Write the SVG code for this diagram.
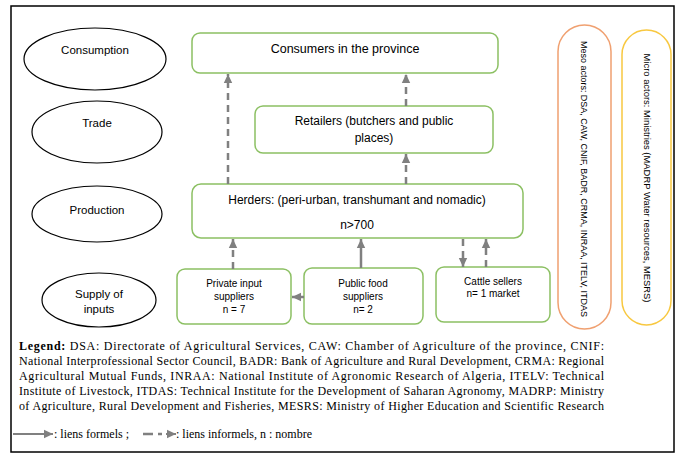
<svg xmlns="http://www.w3.org/2000/svg" width="678" height="455" viewBox="0 0 678 455">
<style>
.ell{fill:#fff;stroke:#000;stroke-width:1.2}
.box{fill:#fff;stroke:#8cc063;stroke-width:1.5}
.t{font-family:"Liberation Sans",Arial,sans-serif;fill:#000;text-anchor:middle}
.lg{font-family:"Liberation Serif","Times New Roman",serif;font-size:12px;fill:#000}
.s{fill:none;stroke:#808080;stroke-width:2.5}
.d{fill:none;stroke:#808080;stroke-width:2.5;stroke-dasharray:7,5}
</style>
<defs>
<marker id="ah" markerUnits="userSpaceOnUse" markerWidth="10" markerHeight="10" viewBox="0 0 10 10" refX="9" refY="5" orient="auto">
<path d="M0,0.8 L9,5 L0,9.2 Z" fill="#808080"/>
</marker>
</defs>
<rect x="11" y="6" width="663" height="446" fill="#fff" stroke="#000" stroke-width="1.5"/>

<g id="consumption"><ellipse class="ell" cx="95" cy="59" rx="71" ry="31"/><text class="t" x="95" y="54" font-size="11.5">Consumption</text></g>
<g id="trade"><ellipse class="ell" cx="97" cy="132" rx="65" ry="31"/><text class="t" x="97" y="127" font-size="11.5">Trade</text></g>
<g id="production"><ellipse class="ell" cx="97" cy="214" rx="65" ry="28"/><text class="t" x="97" y="214" font-size="11.5">Production</text></g>
<g id="supply"><ellipse class="ell" cx="99" cy="300" rx="57" ry="27"/><text class="t" x="99" y="298" font-size="11.5">Supply of</text><text class="t" x="99" y="313" font-size="11.5">inputs</text></g>

<g id="consumers"><rect class="box" x="192" y="33" width="306" height="40" rx="8"/><text class="t" x="345" y="53" font-size="12.5">Consumers in the province</text></g>
<g id="retailers"><rect class="box" x="255" y="106" width="238" height="47" rx="8"/><text class="t" x="374" y="125" font-size="12">Retailers (butchers and public</text><text class="t" x="374" y="142" font-size="12">places)</text></g>
<g id="herders"><rect class="box" x="192" y="184" width="331" height="54" rx="9"/><text class="t" x="357" y="204" font-size="12">Herders: (peri-urban, transhumant and nomadic)</text><text class="t" x="357" y="229" font-size="12">n&gt;700</text></g>
<g id="private"><rect class="box" x="177" y="269" width="114" height="55" rx="8"/><text class="t" x="234" y="287" font-size="10">Private input</text><text class="t" x="234" y="300" font-size="10">suppliers</text><text class="t" x="234" y="313" font-size="10">n = 7</text></g>
<g id="public"><rect class="box" x="304" y="268" width="119" height="56" rx="8"/><text class="t" x="363" y="287" font-size="10">Public food</text><text class="t" x="363" y="300" font-size="10">suppliers</text><text class="t" x="363" y="313" font-size="10">n= 2</text></g>
<g id="cattle"><rect class="box" x="436" y="267" width="114" height="55" rx="8"/><text class="t" x="493" y="285" font-size="10">Cattle sellers</text><text class="t" x="493" y="297" font-size="10">n= 1 market</text></g>

<g id="meso"><rect x="558" y="25" width="53" height="304" rx="26.5" fill="#fff" stroke="#f0a070" stroke-width="1.5"/><text class="t" transform="translate(581,179) rotate(90)" x="0" y="0" font-size="9.5" textLength="276" lengthAdjust="spacingAndGlyphs">Meso actors: DSA, CAW, CNIF, BADR, CRMA, INRAA, ITELV, ITDAS</text></g>
<g id="micro"><rect x="622" y="30" width="49" height="295" rx="24.5" fill="#fff" stroke="#f8c840" stroke-width="1.5"/><text class="t" transform="translate(644,178) rotate(90)" x="0" y="0" font-size="9.5" textLength="249" lengthAdjust="spacingAndGlyphs">Micro actors: Ministries (MADRP Water resources, MESRS)</text></g>

<g id="connectors">
<path class="d" d="M228,184 V74" marker-end="url(#ah)"/>
<path class="d" d="M406,106 V74" marker-end="url(#ah)"/>
<path class="d" d="M406,184 V154" marker-end="url(#ah)"/>
<path class="d" d="M233,269 V239" marker-end="url(#ah)"/>
<path class="s" d="M361,268 V239" marker-end="url(#ah)"/>
<path class="s" d="M304,297 H292" marker-end="url(#ah)"/>
<path class="d" d="M463,239 V267" marker-end="url(#ah)"/>
<path class="d" d="M486,267 V239" marker-end="url(#ah)"/>
</g>

<g id="legend">
<text class="lg" x="19" y="350" textLength="585" lengthAdjust="spacing"><tspan font-weight="bold">Legend:</tspan> DSA: Directorate of Agricultural Services, CAW: Chamber of Agriculture of the province, CNIF:</text>
<text class="lg" x="19" y="365" textLength="585" lengthAdjust="spacing">National Interprofessional Sector Council, BADR: Bank of Agriculture and Rural Development, CRMA: Regional</text>
<text class="lg" x="19" y="380" textLength="585" lengthAdjust="spacing">Agricultural Mutual Funds, INRAA: National Institute of Agronomic Research of Algeria, ITELV: Technical</text>
<text class="lg" x="19" y="395" textLength="585" lengthAdjust="spacing">Institute of Livestock, ITDAS: Technical Institute for the Development of Saharan Agronomy, MADRP: Ministry</text>
<text class="lg" x="19" y="410" textLength="585" lengthAdjust="spacing">of Agriculture, Rural Development and Fisheries, MESRS: Ministry of Higher Education and Scientific Research</text>
<path d="M13,434 H53" fill="none" stroke="#808080" stroke-width="2" marker-end="url(#ah)"/>
<text class="lg" x="54" y="438" font-size="12.5">: liens formels ;</text>
<path d="M143,434 H153 M158,434 H162" fill="none" stroke="#808080" stroke-width="2.5"/>
<path d="M166,434 H176" fill="none" stroke="#808080" stroke-width="2" marker-end="url(#ah)"/>
<text class="lg" x="176" y="438" font-size="12.5">: liens informels, n : nombre</text>
</g>
</svg>
